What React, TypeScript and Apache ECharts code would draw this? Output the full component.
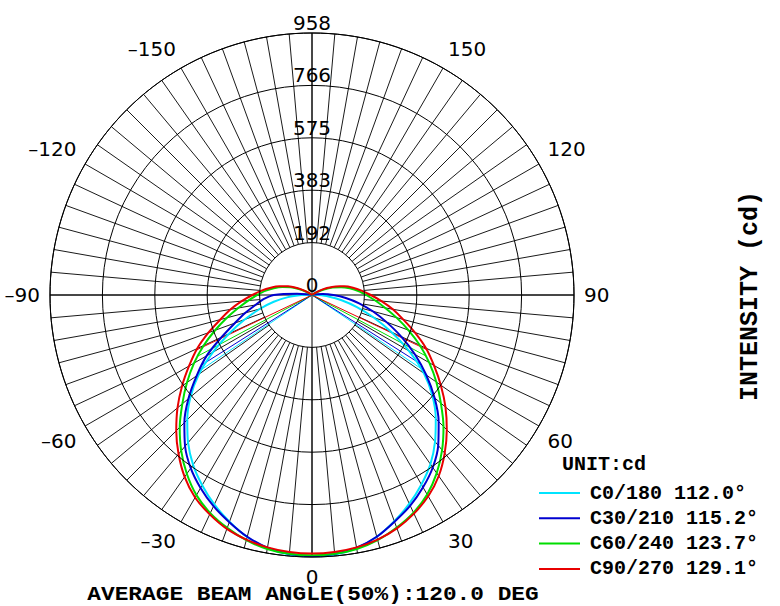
import React, { useEffect, useRef } from "react";
import * as echarts from "echarts";

// Gamma angles (deg) for every C-plane half, 0 = nadir
const GAMMA = [0,5,10,15,20,25,30,35,40,45,50,55,60,65,70,75,80,85,90,95,100,105,110,115,120,125,130,135,140,145,150,155,160,165,170,175,180];

// Intensities (cd), right half (C0, C30, C60, C90) and left half (C180, C210, C240, C270)
const C0   = [958,953,940,915,880,842,800,755,700,640,575,500,410,320,240,170,110,60,22,6,0,0,0,0,0,0,0,0,0,0,0,0,0,0,0,0,0];
const C180 = [958,953,940,916,882,845,803,758,705,645,580,505,418,335,262,198,142,88,38,10,0,0,0,0,0,0,0,0,0,0,0,0,0,0,0,0,0];
const C30  = [955,950,938,915,882,850,812,770,718,655,585,510,435,360,290,230,175,124,78,40,15,4,0,0,0,0,0,0,0,0,0,0,0,0,0,0,0];
const C210 = [955,950,938,915,884,852,815,773,722,660,590,515,445,365,300,252,210,178,140,55,15,3,0,0,0,0,0,0,0,0,0,0,0,0,0,0,0];
const C60  = [952,950,943,928,905,878,842,795,740,680,615,555,495,435,375,320,272,232,198,170,140,110,80,48,20,6,0,0,0,0,0,0,0,0,0,0,0];
const C240 = [952,950,943,928,906,880,845,798,744,684,619,558,498,437,377,322,274,234,200,172,142,112,82,50,22,6,0,0,0,0,0,0,0,0,0,0,0];
const C90  = [945,943,937,926,908,882,850,808,755,697,637,575,515,460,400,345,300,255,215,182,152,122,92,60,30,10,2,0,0,0,0,0,0,0,0,0,0];
const C270 = [945,943,937,926,910,885,855,812,759,702,642,580,519,463,403,347,302,258,218,185,153,123,93,60,30,10,2,0,0,0,0,0,0,0,0,0,0];

const SERIES_NAMES = ["C0/180 112.0°", "C30/210 115.2°", "C60/240 123.7°", "C90/270 129.1°"];
const BEAM_ANGLES = [112.0, 115.2, 123.7, 129.1];
const COLORS = ["#00E4FF", "#0000D0", "#00DD00", "#E80000"];

const RADIUS_MAX = 958;
const RADIUS_STEP = 191.6;
const ANGLE_LABEL_STEP = 30;
const SPOKE_STEP = 5;

const TITLE = "AVERAGE BEAM ANGLE(50%):120.0 DEG";
const UNIT = "UNIT:cd";
const Y_NAME = "INTENSITY (cd)";

const PLANES = [
  [C180, C0],
  [C210, C30],
  [C240, C60],
  [C270, C90],
];

function interp(arr: number[], g: number) {
  for (let i = 0; i < GAMMA.length - 1; i++) {
    if (g >= GAMMA[i] && g <= GAMMA[i + 1]) {
      const t = (g - GAMMA[i]) / (GAMMA[i + 1] - GAMMA[i]);
      return arr[i] * (1 - t) + arr[i + 1] * t;
    }
  }
  return 0;
}

function curve(left: number[], right: number[]) {
  const pts: number[][] = [];
  for (let i = GAMMA.length - 1; i >= 0; i--) pts.push([left[i], -GAMMA[i]]);
  for (let i = 1; i < GAMMA.length; i++) pts.push([right[i], GAMMA[i]]);
  return pts;
}

const CX = 312;
const CY = 295;
const R = 262;
const MONO = '"Liberation Mono", "Courier New", monospace';
const SANS = '"DejaVu Sans", Verdana, sans-serif';

export default function App() {
  const ref = useRef<HTMLDivElement>(null);
  useEffect(() => {
    if (!ref.current) return;
    const chart = echarts.init(ref.current, null, { renderer: "svg" });
    const angleCommon = {
      type: "value",
      min: -180,
      max: 180,
      startAngle: 90,
      clockwise: false,
    };
    const series: any[] = [];
    PLANES.forEach(([l, r], k) => {
      series.push({
        name: SERIES_NAMES[k],
        type: "line",
        coordinateSystem: "polar",
        polarIndex: 0,
        data: curve(l, r),
        smooth: 0.3,
        symbol: "none",
        lineStyle: { color: COLORS[k], width: 2 },
        itemStyle: { color: COLORS[k] },
        z: 10 + k,
      });
    });
    PLANES.forEach(([l, r], k) => {
      const h = BEAM_ANGLES[k] / 2;
      series.push({
        name: "beam" + k,
        type: "line",
        coordinateSystem: "polar",
        polarIndex: 0,
        data: [[interp(l, h), -h], [0, 0], [interp(r, h), h]],
        symbol: "none",
        silent: true,
        lineStyle: { color: COLORS[k], width: 1 },
        z: 5,
      });
    });
    chart.setOption({
      animation: false,
      backgroundColor: "#fff",
      polar: [
        { center: [CX, CY], radius: [0, R] },
        { center: [CX, CY], radius: [R / 5, R] },
        { center: [CX, CY], radius: [0, R] },
      ],
      angleAxis: [
        {
          ...angleCommon,
          polarIndex: 0,
          interval: ANGLE_LABEL_STEP,
          axisLine: { show: true, lineStyle: { color: "#000", width: 1 } },
          axisTick: { show: false },
          splitLine: { show: false },
          axisLabel: {
            margin: 10,
            fontFamily: SANS,
            fontSize: 20,
            color: "#000",
            formatter: (v: number) =>
              Math.abs(v) === 180 ? "" : v < 0 ? "\u2013" + Math.abs(v) : String(v),
          },
          z: 3,
        },
        {
          ...angleCommon,
          polarIndex: 1,
          interval: SPOKE_STEP,
          axisLine: { show: false },
          axisTick: { show: false },
          axisLabel: { show: false },
          splitLine: { show: true, lineStyle: { color: "#1a1a1a", width: 1 } },
          z: 1,
        },
        {
          ...angleCommon,
          polarIndex: 2,
          interval: 90,
          axisLine: { show: false },
          axisTick: { show: false },
          axisLabel: { show: false },
          splitLine: { show: true, lineStyle: { color: "#000", width: 1 } },
          z: 1,
        },
      ],
      radiusAxis: [
        {
          polarIndex: 0,
          type: "value",
          min: 0,
          max: RADIUS_MAX,
          interval: RADIUS_STEP,
          axisLine: { show: false },
          axisTick: { show: false },
          splitLine: { show: true, lineStyle: { color: "#000", width: 1 } },
          axisLabel: {
            margin: 0,
            align: "center",
            verticalAlign: "bottom",
            fontFamily: SANS,
            fontSize: 20,
            color: "#000",
            formatter: (v: number) => String(Math.round(v)),
          },
          z: 20,
        },
        { polarIndex: 1, type: "value", min: 0, max: RADIUS_MAX, show: false },
        { polarIndex: 2, type: "value", min: 0, max: RADIUS_MAX, show: false },
      ],
      legend: {
        data: SERIES_NAMES,
        orient: "vertical",
        left: 534,
        top: 478,
        itemWidth: 41,
        itemHeight: 2,
        itemGap: 5.3,
        icon: "rect",
        selectedMode: false,
        textStyle: {
          fontFamily: MONO,
          fontWeight: "bold",
          fontSize: 20,
          color: "#000",
          lineHeight: 20,
          padding: [0, 0, 0, 5],
        },
      },
      graphic: [
        {
          type: "text",
          left: 562,
          top: 454,
          style: { text: UNIT, font: `bold 20px ${MONO}`, fill: "#000" },
        },
        {
          type: "text",
          x: 313,
          y: 594,
          scaleX: 1.14,
          style: {
            text: TITLE,
            font: `bold 20px ${MONO}`,
            fill: "#000",
            align: "center",
            verticalAlign: "middle",
          },
        },
        {
          type: "text",
          x: 750,
          y: 296,
          rotation: Math.PI / 2,
          style: {
            text: Y_NAME,
            font: `bold 25px ${MONO}`,
            fill: "#000",
            align: "center",
            verticalAlign: "middle",
          },
        },
      ],
      series,
    });
    return () => chart.dispose();
  }, []);
  return (
    <div
      ref={ref}
      style={{ position: "absolute", left: 0, top: 0, width: 780, height: 606 }}
    />
  );
}
